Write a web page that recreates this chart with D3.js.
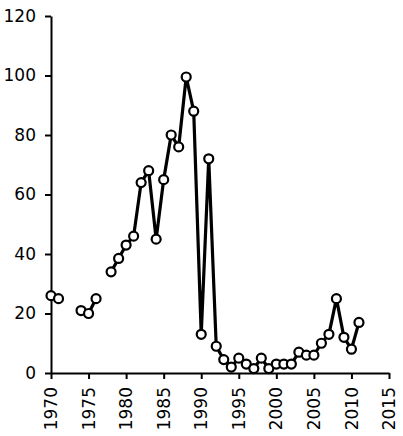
<!DOCTYPE html>
<html>
<head>
<meta charset="utf-8">
<script src="https://cdn.jsdelivr.net/npm/d3@7"></script>
<style>
  body { margin: 0; background: #fff; }
  svg { display: block; }
  .axis text, .xlabel text { font-family: "DejaVu Sans", Verdana, sans-serif; font-size: 17px; fill: #000; }
  .axis path, .axis line { stroke: #000; stroke-width: 2; }
</style>
</head>
<body>
<div id="chart"></div>
<script>
// years and values; null marks a missing year
var years = [1970, 1971, 1972, 1973, 1974, 1975, 1976, 1977, 1978, 1979,
             1980, 1981, 1982, 1983, 1984, 1985, 1986, 1987, 1988, 1989,
             1990, 1991, 1992, 1993, 1994, 1995, 1996, 1997, 1998, 1999,
             2000, 2001, 2002, 2003, 2004, 2005, 2006, 2007, 2008, 2009,
             2010, 2011]
var values = [26, 25, null, null, 21, 20, 25, null, 34, 38.5,
              43, 46, 64, 68, 45, 65, 80, 76, 99.5, 88,
              13, 72, 9, 4.5, 2, 5, 3, 1.5, 5, 1.5,
              3, 3, 3, 7, 6, 6, 10, 13, 25, 12,
              8, 17]
var xTicks = [1970, 1975, 1980, 1985, 1990, 1995, 2000, 2005, 2010, 2015]
var yTicks = [0, 20, 40, 60, 80, 100, 120]

var width = 403, height = 436
var svg = d3.select("#chart").append("svg")
  .attr("width", width)
  .attr("height", height)

var x = d3.scaleLinear().domain([1970, 2015]).range([51, 389])
var y = d3.scaleLinear().domain([0, 120]).range([373, 16])

var data = years.map(function(yr, i) { return { year: yr, value: values[i] } })

// y axis
var yAxis = d3.axisLeft(y).tickValues(yTicks).tickSize(6).tickPadding(9).tickSizeOuter(0)
svg.append("g")
  .attr("class", "axis")
  .attr("transform", "translate(" + x(1970) + ",0)")
  .call(yAxis)

// x axis: ticks from d3, labels turned on their side (matrix = rotate -90)
var xAxis = d3.axisBottom(x).tickValues(xTicks).tickFormat("").tickSize(6).tickSizeOuter(0)
svg.append("g")
  .attr("class", "axis")
  .attr("transform", "translate(0," + y(0) + ")")
  .call(xAxis)

svg.append("g").attr("class", "xlabel")
  .selectAll("text")
  .data(xTicks)
  .enter().append("text")
  .attr("transform", function(d) { return "matrix(0,-1,1,0," + x(d) + "," + (y(0) + 14) + ")" })
  .attr("text-anchor", "end")
  .attr("dy", "0.36em")
  .text(function(d) { return d })

var line = d3.line()
  .defined(function(d) { return d.value != null })
  .x(function(d) { return x(d.year) })
  .y(function(d) { return y(d.value) })

svg.append("path")
  .datum(data)
  .attr("d", line)
  .attr("fill", "none")
  .attr("stroke", "#000")
  .attr("stroke-width", 3.2)
  .attr("stroke-linejoin", "round")

svg.append("g").selectAll("circle")
  .data(data.filter(function(d) { return d.value != null }))
  .enter().append("circle")
  .attr("cx", function(d) { return x(d.year) })
  .attr("cy", function(d) { return y(d.value) })
  .attr("r", 4.5)
  .attr("fill", "#fff")
  .attr("stroke", "#000")
  .attr("stroke-width", 2.2)
</script>
</body>
</html>
